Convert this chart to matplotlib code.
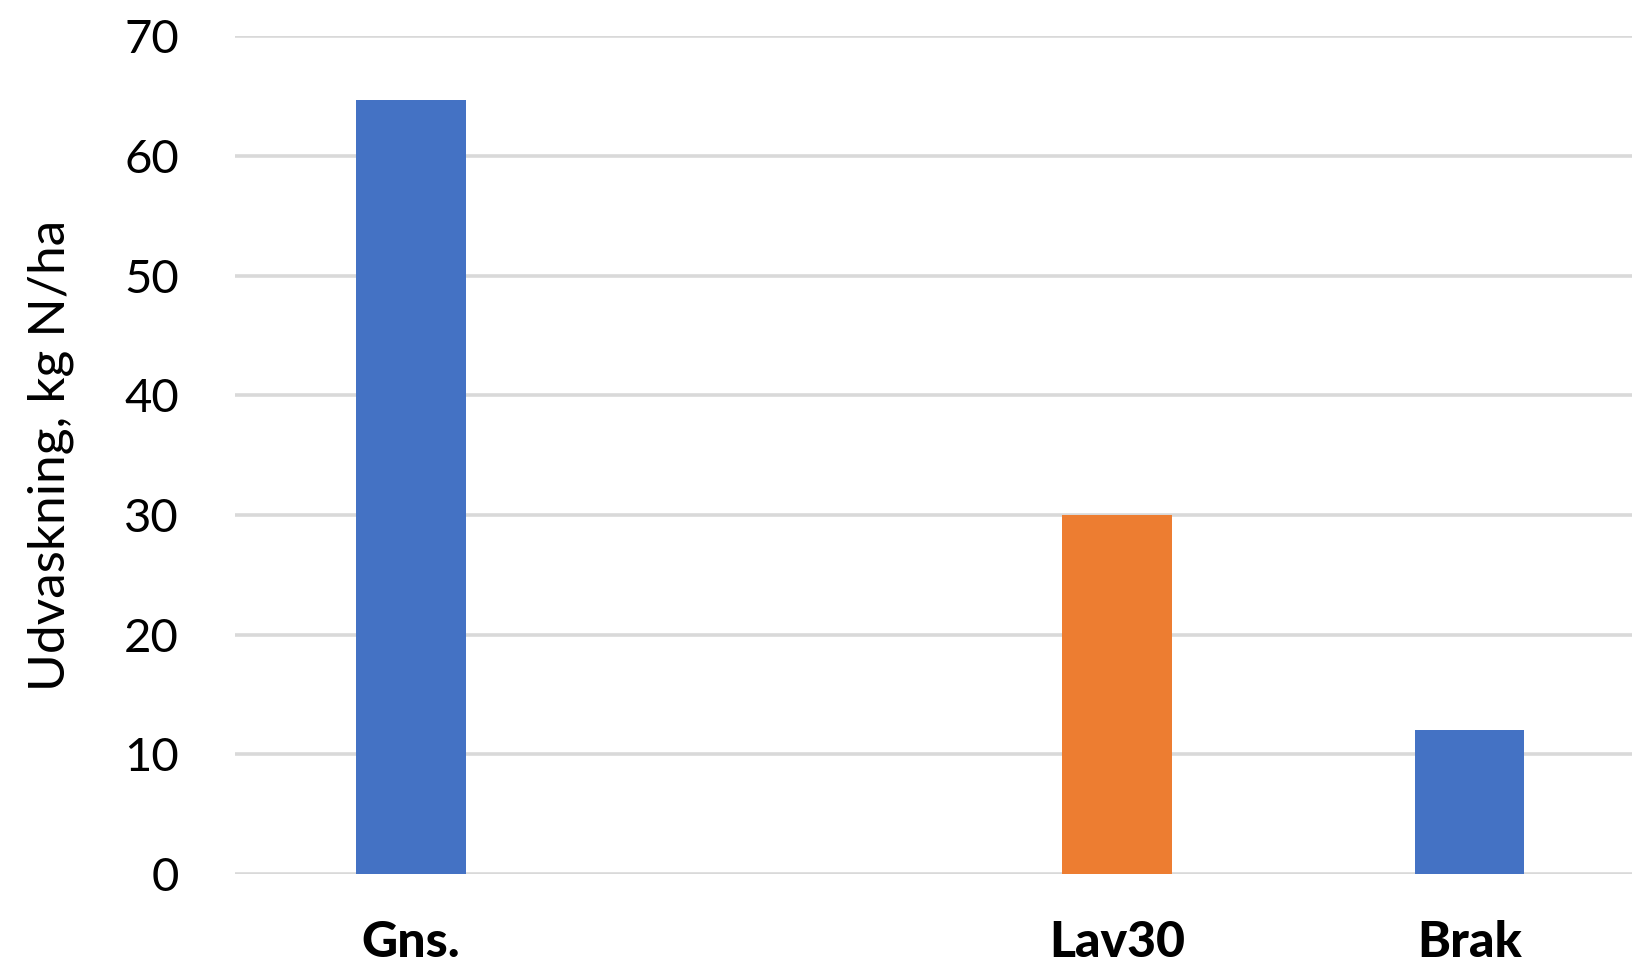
import numpy as np
import matplotlib
matplotlib.use('Agg')
import matplotlib.pyplot as plt

# N leaching per treatment (empty slot keeps the gap between Gns. and Lav30)
categories = ['Gns.', '', 'Lav30', 'Brak']
values     = [64.7, np.nan, 30, 12]
colors     = ['#4472C4', '#4472C4', '#ED7D31', '#4472C4']
yticks     = [0, 10, 20, 30, 40, 50, 60, 70]

plt.rcParams['font.family'] = ['Lato', 'DejaVu Sans']

fig = plt.figure(figsize=(16.32, 9.72), dpi=100)
ax = fig.add_axes([0.1437, 0.1008, 0.865, 0.8617])

x = np.arange(len(categories))
ax.bar(x, values, width=0.31, color=colors, zorder=3)

ax.set_xlim(-0.5, len(categories) - 0.5)
ax.set_ylim(0, 70)
ax.set_yticks(yticks)
ax.set_yticklabels([str(v) for v in yticks], fontsize=34)
ax.set_xticks(x)
ax.set_xticklabels(categories, fontsize=36, fontweight='black')

ax.grid(axis='y', color='#D9D9D9', linewidth=2.6, zorder=0)
ax.set_axisbelow(True)
for s in ax.spines.values():
    s.set_visible(False)
ax.tick_params(axis='both', length=0)
ax.tick_params(axis='y', pad=40)
ax.tick_params(axis='x', pad=33)

ax.set_ylabel('Udvaskning, kg N/ha', fontsize=37, labelpad=36)

fig.savefig('out.png', dpi=100)
